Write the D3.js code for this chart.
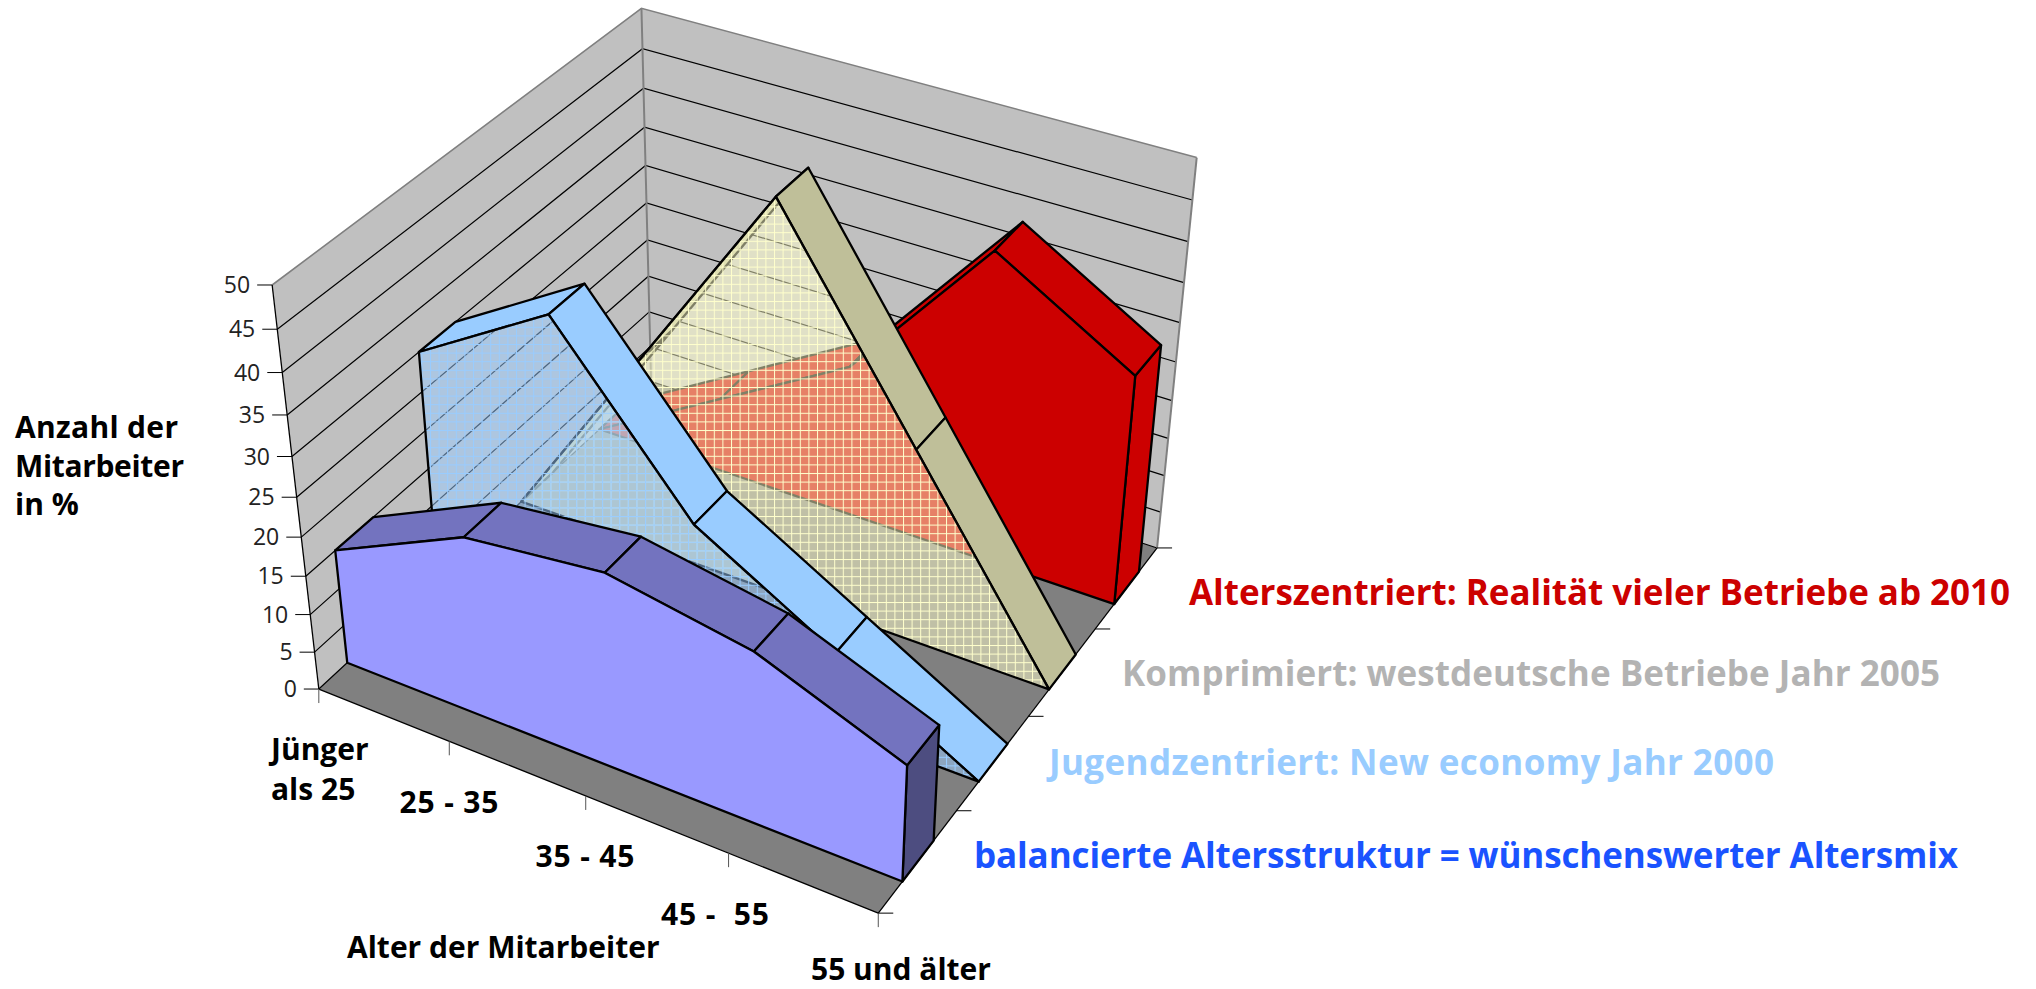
<!DOCTYPE html>
<html>
<head>
<meta charset="utf-8">
<script src="https://cdn.jsdelivr.net/npm/d3@7"></script>
<style>
  body { margin: 0; background: #fff; }
  text { font-family: "Open Sans", sans-serif; }
</style>
</head>
<body>
<div id="chart"></div>
<script>
// values
var categories = ["Jünger als 25", "25 - 35", "35 - 45", "45 - 55", "55 und älter"];
var seriesNames = ["balanciert", "jugendzentriert", "komprimiert", "alterszentriert"];
var balanced = [15, 23, 25, 22, 15];
var youth = [30, 40, 20, 10, 0];
var compressed = [0, 25, 50, 25, 0];
var aged = [0, 10, 20, 40, 30];
var yTicks = [0, 5, 10, 15, 20, 25, 30, 35, 40, 45, 50];

var width = 2036, height = 989;

var svg = d3.select("#chart").append("svg")
  .attr("width", width)
  .attr("height", height)
  .style("display", "block");

// scales in box units, 0..1 on every edge of the 3D box
var x = d3.scalePoint().domain(categories).range([0, 1]);
var z = d3.scaleBand().domain(seriesNames).range([0, 1]).paddingInner(0.6).paddingOuter(0.3);
var y = d3.scaleLinear().domain([0, 50]).range([0, 1]);

// camera: where the box corners land on the page, fitted to a perspective matrix
var anchors = [
  [0, 0, 0, 319, 689], [1, 0, 0, 879, 913], [1, 1, 0, 1157, 547], [0, 1, 0, 652, 382],
  [0, 0, 1, 273, 285], [0, 1, 1, 641, 8], [1, 1, 1, 1197, 158],
  [0, 0, 0.5, 296, 497], [0, 1, 0.5, 646, 203], [0.5, 0, 0, 585, 796], [1, 0.5, 0, 1028, 717]
];

function fitCamera(pts) {
  var rows = [];
  pts.forEach(function (p) {
    rows.push([p[0], p[1], p[2], 1, 0, 0, 0, 0, -p[3] * p[0], -p[3] * p[1], -p[3] * p[2], p[3]]);
    rows.push([0, 0, 0, 0, p[0], p[1], p[2], 1, -p[4] * p[0], -p[4] * p[1], -p[4] * p[2], p[4]]);
  });
  var n = 11, m = [];
  for (var i = 0; i < n; i++) {
    m.push([]);
    for (var j = 0; j <= n; j++) {
      m[i].push(d3.sum(rows, function (r) { return r[i] * r[j]; }));
    }
  }
  // gaussian elimination
  for (var c = 0; c < n; c++) {
    var best = c;
    for (var r = c + 1; r < n; r++) if (Math.abs(m[r][c]) > Math.abs(m[best][c])) best = r;
    var tmp = m[c]; m[c] = m[best]; m[best] = tmp;
    for (var r2 = 0; r2 < n; r2++) {
      if (r2 === c) continue;
      var f = m[r2][c] / m[c][c];
      for (var k = c; k <= n; k++) m[r2][k] -= f * m[c][k];
    }
  }
  return m.map(function (row, i) { return row[n] / row[i]; });
}

var cam = fitCamera(anchors);

function project(u, v, h) {
  var w = cam[8] * u + cam[9] * v + cam[10] * h + 1;
  return [
    (cam[0] * u + cam[1] * v + cam[2] * h + cam[3]) / w,
    (cam[4] * u + cam[5] * v + cam[6] * h + cam[7]) / w
  ];
}

function poly(pts) {
  return d3.line()(pts) + "Z";
}

// see-through fills: half covered colour with a solid fine grid on top
function addPattern(id, color) {
  var defs = svg.select("defs").empty() ? svg.append("defs") : svg.select("defs");
  var p = defs.append("pattern")
    .attr("id", id)
    .attr("patternUnits", "userSpaceOnUse")
    .attr("width", 8.6)
    .attr("height", 8.6);
  p.append("rect").attr("width", 8.6).attr("height", 8.6).attr("fill", color).attr("fill-opacity", 0.5);
  p.append("rect").attr("width", 8.6).attr("height", 1).attr("fill", color);
  p.append("rect").attr("width", 1).attr("height", 8.6).attr("fill", color);
}
addPattern("hatchBlue", "#99ccff");
addPattern("hatchYellow", "#ffffcc");

// walls and floor
svg.append("path")
  .attr("d", poly([project(0, 0, 0), project(0, 0, 1), project(0, 1, 1), project(0, 1, 0)]))
  .attr("fill", "#c0c0c0");
svg.append("path")
  .attr("d", poly([project(0, 1, 0), project(0, 1, 1), project(1, 1, 1), project(1, 1, 0)]))
  .attr("fill", "#c0c0c0");
svg.append("path")
  .attr("d", poly([project(0, 0, 0), project(1, 0, 0), project(1, 1, 0), project(0, 1, 0)]))
  .attr("fill", "#808080");

// grid lines on the walls
yTicks.forEach(function (t) {
  svg.append("path")
    .attr("d", d3.line()([project(0, 0, y(t)), project(0, 1, y(t)), project(1, 1, y(t))]))
    .attr("fill", "none")
    .attr("stroke", t === 50 ? "#808080" : "#000")
    .attr("stroke-width", t === 50 ? 1.6 : 1.2);
});
svg.append("path")
  .attr("d", d3.line()([project(0, 1, 0), project(0, 1, 1)]))
  .attr("fill", "none").attr("stroke", "#808080").attr("stroke-width", 2);
svg.append("path")
  .attr("d", d3.line()([project(1, 1, 0), project(1, 1, 1)]))
  .attr("fill", "none").attr("stroke", "#808080").attr("stroke-width", 2);

// axes
svg.append("path")
  .attr("d", d3.line()([project(0, 0, 0), project(0, 0, 1)]))
  .attr("fill", "none").attr("stroke", "#000").attr("stroke-width", 1.3);
svg.append("path")
  .attr("d", d3.line()([project(0, 0, 0), project(1, 0, 0)]))
  .attr("fill", "none").attr("stroke", "#000").attr("stroke-width", 1.3);
svg.append("path")
  .attr("d", d3.line()([project(1, 0, 0), project(1, 1, 0)]))
  .attr("fill", "none").attr("stroke", "#000").attr("stroke-width", 1.3);

yTicks.forEach(function (t) {
  var p = project(0, 0, y(t));
  svg.append("line")
    .attr("x1", p[0] - 15).attr("x2", p[0])
    .attr("y1", p[1]).attr("y2", p[1])
    .attr("stroke", "#000").attr("stroke-width", 1);
  svg.append("text")
    .attr("x", p[0] - 22)
    .attr("y", p[1] + 8)
    .attr("text-anchor", "end")
    .attr("font-size", 23)
    .attr("fill", "#222")
    .text(t);
});

categories.forEach(function (c) {
  var p = project(x(c), 0, 0);
  svg.append("line")
    .attr("x1", p[0]).attr("x2", p[0])
    .attr("y1", p[1]).attr("y2", p[1] + 14)
    .attr("stroke", "#555").attr("stroke-width", 1);
});
d3.range(5).forEach(function (i) {
  var p = project(1, i / 4, 0);
  svg.append("line")
    .attr("x1", p[0]).attr("x2", p[0] + 15)
    .attr("y1", p[1]).attr("y2", p[1])
    .attr("stroke", "#000").attr("stroke-width", 1);
});

// one area series: end cap, top strips, front face
function drawSeries(name, values, faceFill, topFill, capFill) {
  var v0 = z(name), v1 = z(name) + z.bandwidth();
  var g = svg.append("g").attr("stroke", "#000").attr("stroke-width", 2.3).attr("stroke-linejoin", "round");
  var last = categories[categories.length - 1];
  var lastH = y(values[values.length - 1]);

  if (lastH > 0) {
    g.append("path")
      .attr("d", poly([project(1, v0, 0), project(1, v0, lastH), project(1, v1, lastH), project(1, v1, 0)]))
      .attr("fill", capFill);
  }
  d3.pairs(categories.map(function (c, i) { return [x(c), y(values[i])]; })).forEach(function (s) {
    g.append("path")
      .attr("d", poly([project(s[0][0], v0, s[0][1]), project(s[1][0], v0, s[1][1]),
        project(s[1][0], v1, s[1][1]), project(s[0][0], v1, s[0][1])]))
      .attr("fill", topFill);
  });
  var face = categories.map(function (c, i) { return project(x(c), v0, y(values[i])); });
  face.push(project(x(last), v0, 0));
  face.push(project(0, v0, 0));
  g.append("path").attr("d", poly(face)).attr("fill", faceFill);
}

drawSeries("alterszentriert", aged, "#cc0000", "#cc0000", "#cc0000");
drawSeries("komprimiert", compressed, "url(#hatchYellow)", "#bfbf99", "#bfbf99");
drawSeries("jugendzentriert", youth, "url(#hatchBlue)", "#99ccff", "#99ccff");
drawSeries("balanciert", balanced, "#9999ff", "#7373bf", "#4d4d80");

// texts
function label(txt, px, py, size, weight, color, anchor, len) {
  var t = svg.append("text")
    .attr("x", px).attr("y", py)
    .attr("font-size", size)
    .attr("font-weight", weight)
    .attr("fill", color)
    .attr("text-anchor", anchor || "start")
    .style("white-space", "pre")
    .text(txt);
  if (len) t.attr("textLength", len);
}

label("Anzahl der", 15, 438, 30, 700, "#000", "start", 163);
label("Mitarbeiter", 15, 477, 30, 700, "#000", "start", 169);
label("in %", 15, 515, 30, 700, "#000");

label("Jünger", 271, 760, 30, 700, "#000");
label("als 25", 271, 800, 30, 700, "#000");
label("25 - 35", 449, 813, 30, 700, "#000", "middle", 99);
label("35 - 45", 585, 867, 30, 700, "#000", "middle", 99);
label("45 -  55", 715, 925, 30, 700, "#000", "middle", 108);
label("55 und älter", 811, 980, 30, 700, "#000");
label("Alter der Mitarbeiter", 347, 958, 30, 700, "#000");

label("Alterszentriert: Realität vieler Betriebe ab 2010", 1189, 605, 35, 700, "#cc0000", "start", 821);
label("Komprimiert: westdeutsche Betriebe Jahr 2005", 1122, 686, 35, 700, "#b3b3b3", "start", 818);
label("Jugendzentriert: New economy Jahr 2000", 1049, 775, 35, 700, "#99ccff", "start", 725);
label("balancierte Altersstruktur = wünschenswerter Altersmix", 974, 868, 35, 700, "#1a53ff", "start", 984);
</script>
</body>
</html>
